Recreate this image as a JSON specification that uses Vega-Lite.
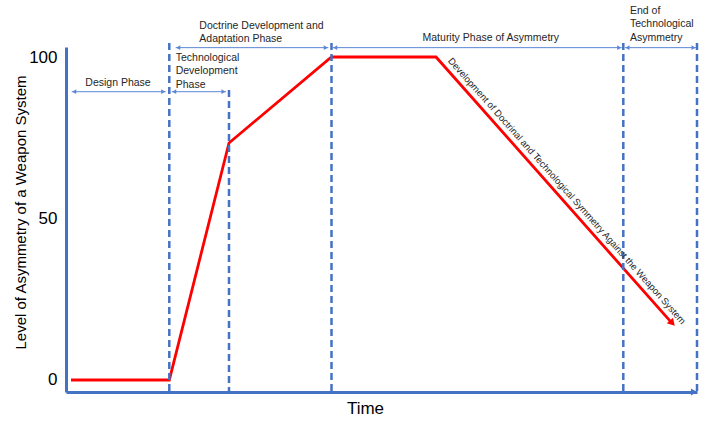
{
  "$schema": "https://vega.github.io/schema/vega-lite/v6.json",
  "width": 631,
  "height": 345,
  "autosize": {"type": "none"},
  "padding": {"left": 66, "top": 47, "right": 12, "bottom": 36},
  "background": "white",
  "config": {"view": {"stroke": null}, "font": "Liberation Sans"},
  "datasets": {
    "curve": [
      {"t": 5, "level": 0},
      {"t": 103.3, "level": 0},
      {"t": 163, "level": 73.4},
      {"t": 265.5, "level": 100},
      {"t": 370, "level": 100},
      {"t": 606, "level": 17.6}
    ],
    "head": [{"t": 606.3, "level": 17.6}],
    "axisend": [{"t": 628, "level": -3.72}],
    "dividers": [
      {"t": 103.3, "level": 104.3},
      {"t": 163, "level": 89.8},
      {"t": 265.5, "level": 104.3},
      {"t": 557.3, "level": 104.3},
      {"t": 631, "level": 104.3}
    ],
    "spans": [
      {"phase": "Design", "start": 5.7, "end": 99.7, "level": 89.26},
      {"phase": "Technological Development", "start": 105.7, "end": 160, "level": 89.26},
      {"phase": "Doctrine", "start": 109.7, "end": 262.3, "level": 102.9},
      {"phase": "Maturity", "start": 266.7, "end": 555.7, "level": 102.9},
      {"phase": "End", "start": 559, "end": 630, "level": 102.9}
    ],
    "centerLabels": [
      {"text": "Design Phase", "t": 52, "level": 92.0},
      {"text": "Maturity Phase of Asymmetry", "t": 424.8, "level": 105.8}
    ],
    "leftLabels": [
      {"text": "Technological\nDevelopment\nPhase", "t": 109.7, "level": 99.7},
      {"text": "Doctrine Development and\nAdaptation Phase", "t": 133.3, "level": 109.7},
      {"text": "End of\nTechnological\nAsymmetry", "t": 564, "level": 114.3}
    ],
    "diag": [
      {"text": "Development of Doctrinal and Technological Symmetry Against the Weapon System", "t": 500.7, "level": 58.5}
    ]
  },
  "layer": [
    {
      "data": {"name": "curve"},
      "mark": {"type": "line", "color": "#FF0000", "strokeWidth": 2.8},
      "encoding": {
        "x": {
          "field": "t", "type": "quantitative",
          "scale": {"domain": [0, 631], "nice": false, "zero": false},
          "axis": {
            "title": "Time", "labels": false, "ticks": false, "grid": false,
            "domainColor": "#4472C4", "domainWidth": 3,
            "titleFontSize": 17, "titleFontWeight": "normal", "titleColor": "black",
            "titleX": 299, "titleY": 16, "titleBaseline": "middle"
          }
        },
        "y": {
          "field": "level", "type": "quantitative",
          "scale": {"domain": [-3.72, 103.1], "nice": false, "zero": false},
          "axis": {
            "title": "Level of Asymmetry of a Weapon System",
            "values": [0, 50, 100], "grid": false, "ticks": false,
            "domainColor": "#4472C4", "domainWidth": 3,
            "labelFontSize": 17, "labelColor": "black", "labelPadding": 9,
            "titleFontSize": 15, "titleFontWeight": "normal", "titleColor": "black",
            "titleX": -41, "titleY": 165, "titleBaseline": "alphabetic"
          }
        }
      }
    },
    {
      "data": {"name": "head"},
      "mark": {"type": "point", "shape": "triangle-right", "filled": true, "color": "#FF0000", "opacity": 1, "size": 70, "angle": 48.4},
      "encoding": {
        "x": {"field": "t", "type": "quantitative"},
        "y": {"field": "level", "type": "quantitative"}
      }
    },
    {
      "data": {"name": "axisend"},
      "mark": {"type": "point", "shape": "triangle-right", "filled": true, "color": "#4472C4", "opacity": 1, "size": 50},
      "encoding": {
        "x": {"field": "t", "type": "quantitative"},
        "y": {"field": "level", "type": "quantitative"}
      }
    },
    {
      "data": {"name": "dividers"},
      "mark": {"type": "rule", "color": "#4472C4", "strokeWidth": 2.5, "strokeDash": [7, 4]},
      "encoding": {
        "x": {"field": "t", "type": "quantitative"},
        "y": {"field": "level", "type": "quantitative"},
        "y2": {"datum": -3.72}
      }
    },
    {
      "data": {"name": "spans"},
      "mark": {"type": "rule", "color": "#5B87D6", "strokeWidth": 1},
      "encoding": {
        "x": {"field": "start", "type": "quantitative"},
        "x2": {"field": "end"},
        "y": {"field": "level", "type": "quantitative"}
      }
    },
    {
      "data": {"name": "spans"},
      "mark": {"type": "point", "shape": "triangle-left", "filled": true, "color": "#5B87D6", "opacity": 1, "size": 22, "xOffset": 2.5},
      "encoding": {
        "x": {"field": "start", "type": "quantitative"},
        "y": {"field": "level", "type": "quantitative"}
      }
    },
    {
      "data": {"name": "spans"},
      "mark": {"type": "point", "shape": "triangle-right", "filled": true, "color": "#5B87D6", "opacity": 1, "size": 22, "xOffset": -2.5},
      "encoding": {
        "x": {"field": "end", "type": "quantitative"},
        "y": {"field": "level", "type": "quantitative"}
      }
    },
    {
      "data": {"name": "centerLabels"},
      "mark": {"type": "text", "align": "center", "baseline": "middle", "fontSize": 10.5, "color": "#262626"},
      "encoding": {
        "x": {"field": "t", "type": "quantitative"},
        "y": {"field": "level", "type": "quantitative"},
        "text": {"field": "text"}
      }
    },
    {
      "data": {"name": "leftLabels"},
      "mark": {"type": "text", "align": "left", "baseline": "middle", "fontSize": 10.5, "lineHeight": 13.5, "lineBreak": "\n", "color": "#262626"},
      "encoding": {
        "x": {"field": "t", "type": "quantitative"},
        "y": {"field": "level", "type": "quantitative"},
        "text": {"field": "text"}
      }
    },
    {
      "data": {"name": "diag"},
      "mark": {"type": "text", "align": "center", "baseline": "middle", "fontSize": 9.5, "angle": 48.4, "color": "#262626"},
      "encoding": {
        "x": {"field": "t", "type": "quantitative"},
        "y": {"field": "level", "type": "quantitative"},
        "text": {"field": "text"}
      }
    }
  ]
}
